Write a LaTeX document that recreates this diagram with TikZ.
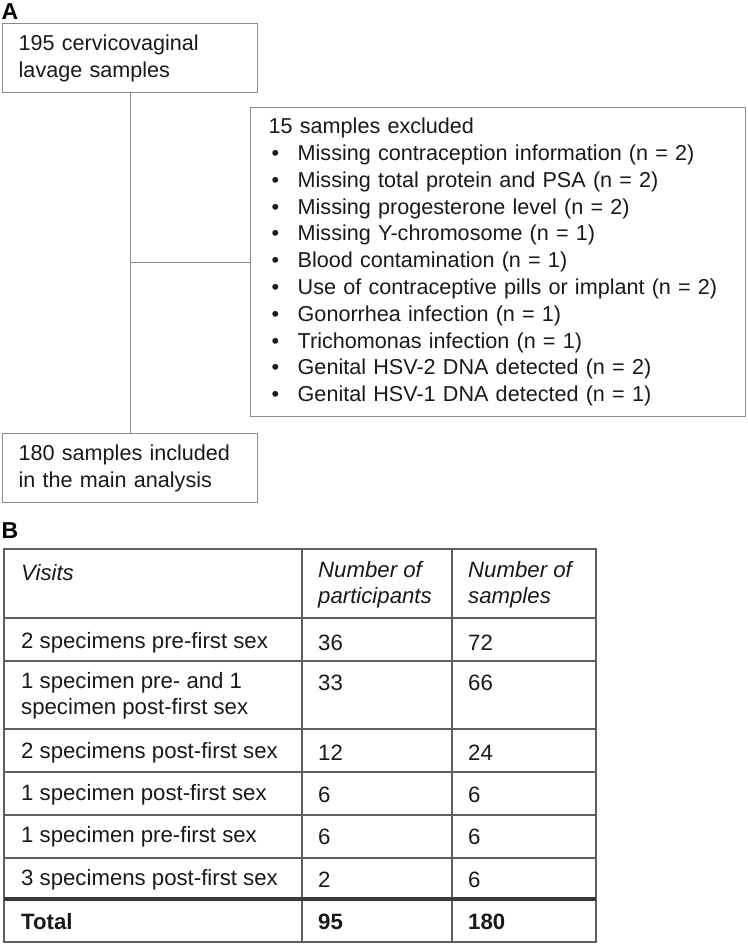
\documentclass[tikz,border=0pt]{standalone}
\usepackage{fontspec}
\setmainfont{Liberation Sans}
\usetikzlibrary{positioning}
\definecolor{boxgray}{HTML}{8C8C8C}
\definecolor{rulegray}{HTML}{5F5F5F}
\definecolor{thickgray}{HTML}{3A3A3A}
\newcommand{\bul}{\makebox[29pt][l]{\hspace{3pt}\textbullet}}
\begin{document}
\begin{tikzpicture}[x=1pt,y=-1pt,
  box/.style={draw=boxgray,line width=1.4pt,anchor=north west,align=left,inner xsep=16pt,inner ysep=0pt,font=\fontsize{21.6}{26.8}\selectfont,text=black!90},
  lbl/.style={font=\bfseries\fontsize{23}{25}\selectfont},
  cell/.style={anchor=west,inner sep=0pt,align=left,font=\fontsize{22.2}{26.5}\selectfont,text=black!90},
  bcell/.style={cell,font=\bfseries\fontsize{22.2}{26.5}\selectfont},
  link/.style={draw=boxgray,line width=1.2pt}]
\useasboundingbox (0,0) rectangle (747,944);
\node[lbl] (labA) at (10,12) {A};
\node[box,text width=223pt,minimum height=69pt] (start) at (2,23) {195 cervicovaginal\\lavage samples};
\node[box,text width=459pt,minimum height=309pt,inner xsep=18pt] (excl) at (250,107) {15 samples excluded\\
\bul Missing contraception information (n = 2)\\
\bul Missing total protein and PSA (n = 2)\\
\bul Missing progesterone level (n = 2)\\
\bul Missing Y-chromosome (n = 1)\\
\bul Blood contamination (n = 1)\\
\bul Use of contraceptive pills or implant (n = 2)\\
\bul Gonorrhea infection (n = 1)\\
\bul Trichomonas infection (n = 1)\\
\bul Genital HSV-2 DNA detected (n = 2)\\
\bul Genital HSV-1 DNA detected (n = 1)};
\node[box,text width=223pt,minimum height=69pt] (incl) at (2,433) {180 samples included\\in the main analysis};
\draw[link] (start.south) -- (incl.north);
\draw[link] (excl.west) -- (excl.west -| start.south);
\node[lbl] (labB) at (10,531) {B};
\draw[rulegray,line width=1.4pt] (4,549) rectangle (596,942);
\foreach \y in {618,661,729,772,815,858} \draw[rulegray,line width=1.3pt] (4,\y) -- (596,\y);
\draw[rulegray,line width=1.3pt] (302,549) -- (302,942); \draw[rulegray,line width=1.3pt] (452,549) -- (452,942);
\draw[thickgray,line width=4.5pt] (4,899) -- (596,899);
\node[cell] (hvis) at (21,573) {\itshape Visits};
\node[cell] (hpar) at (318,585) {\itshape Number of\\\itshape participants};
\node[cell] (hsam) at (468,585) {\itshape Number of\\\itshape samples};
\node[cell] (r1) at (21,643) {2 specimens pre-first sex}; \node[cell] (r1p) at (318,643) {36}; \node[cell] (r1s) at (468,643) {72};
\node[cell] (r2) at (21,696) {1 specimen pre- and 1\\specimen post-first sex}; \node[cell] (r2p) at (318,683) {33}; \node[cell] (r2s) at (468,683) {66};
\node[cell] (r3) at (21,753) {2 specimens post-first sex}; \node[cell] (r3p) at (318,753) {12}; \node[cell] (r3s) at (468,753) {24};
\node[cell] (r4) at (21,795) {1 specimen post-first sex}; \node[cell] (r4p) at (318,795) {6}; \node[cell] (r4s) at (468,795) {6};
\node[cell] (r5) at (21,837) {1 specimen pre-first sex}; \node[cell] (r5p) at (318,837) {6}; \node[cell] (r5s) at (468,837) {6};
\node[cell] (r6) at (21,880) {3 specimens post-first sex}; \node[cell] (r6p) at (318,880) {2}; \node[cell] (r6s) at (468,880) {6};
\node[bcell] (tot) at (21,922) {Total}; \node[bcell] (totp) at (318,922) {95}; \node[bcell] (tots) at (468,922) {180};
\end{tikzpicture}
\end{document}
